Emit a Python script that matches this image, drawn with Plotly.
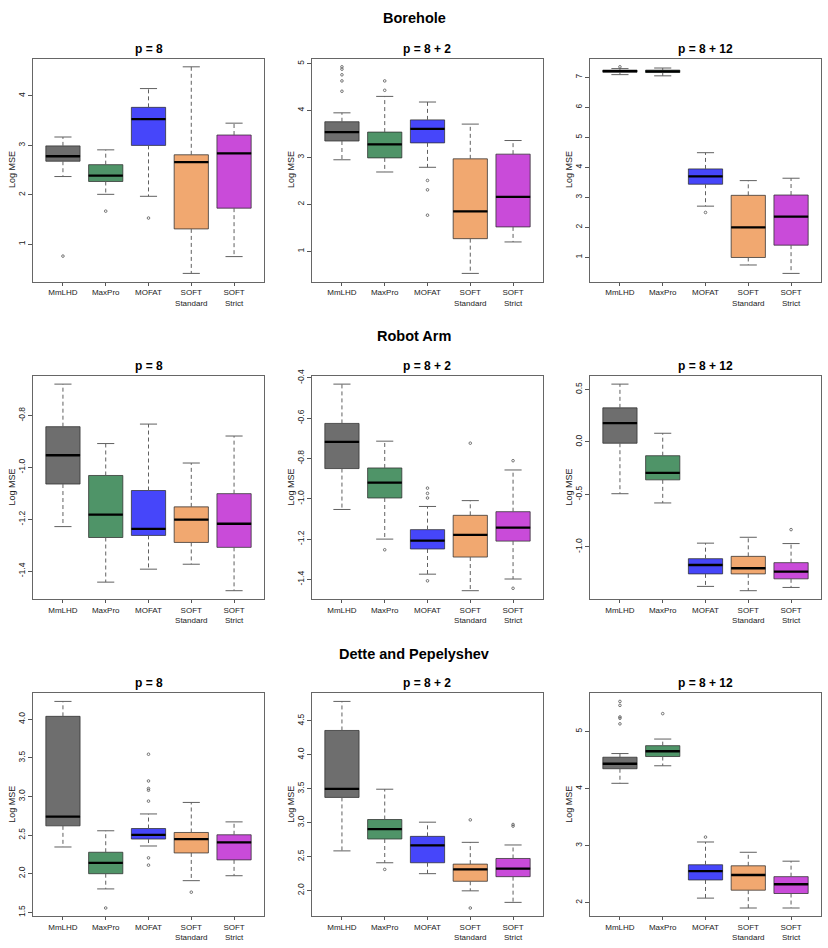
import plotly.graph_objects as go

# ---------------- data ----------------
methods = ["MmLHD", "MaxPro", "MOFAT", "SOFT<br>Standard", "SOFT<br>Strict"]
colors = ["#6e6e6e", "#4f9468", "#4646fa", "#f1a870", "#c94bd9"]
sections = ["Borehole", "Robot Arm", "Dette and Pepelyshev"]
subtitles = ["p = 8", "p = 8 + 2", "p = 8 + 12"]

# Borehole, p = 8
bh1_lower = [2.37, 2.01, 1.97, 0.41, 0.75]
bh1_q1 = [2.68, 2.27, 3.00, 1.31, 1.73]
bh1_med = [2.78, 2.39, 3.53, 2.66, 2.84]
bh1_q3 = [2.99, 2.61, 3.77, 2.81, 3.21]
bh1_upper = [3.17, 2.91, 4.15, 4.59, 3.45]
bh1_out = [[0.76], [1.67], [1.53], [], []]
bh1_ticks = [1, 2, 3, 4]
bh1_ticktext = ["1", "2", "3", "4"]

# Borehole, p = 8 + 2
bh2_lower = [2.95, 2.69, 2.79, 0.53, 1.20]
bh2_q1 = [3.35, 2.99, 3.31, 1.27, 1.52]
bh2_med = [3.54, 3.28, 3.61, 1.85, 2.16]
bh2_q3 = [3.76, 3.54, 3.80, 2.97, 3.07]
bh2_upper = [3.95, 4.30, 4.18, 3.71, 3.36]
bh2_out = [[4.93, 4.88, 4.76, 4.63, 4.41], [4.63, 4.43], [2.51, 2.31, 1.77], [], []]
bh2_ticks = [1, 2, 3, 4, 5]
bh2_ticktext = ["1", "2", "3", "4", "5"]

# Borehole, p = 8 + 12
bh3_lower = [7.09, 7.05, 2.71, 0.75, 0.47]
bh3_q1 = [7.17, 7.16, 3.44, 1.00, 1.41]
bh3_med = [7.21, 7.20, 3.70, 2.00, 2.36]
bh3_q3 = [7.24, 7.24, 3.95, 3.07, 3.08]
bh3_upper = [7.29, 7.31, 4.49, 3.56, 3.64]
bh3_out = [[7.35], [], [2.50], [], []]
bh3_ticks = [1, 2, 3, 4, 5, 6, 7]
bh3_ticktext = ["1", "2", "3", "4", "5", "6", "7"]

# Robot Arm, p = 8
ra1_lower = [-1.228, -1.442, -1.392, -1.373, -1.475]
ra1_q1 = [-1.064, -1.270, -1.262, -1.289, -1.308]
ra1_med = [-0.953, -1.182, -1.237, -1.201, -1.217]
ra1_q3 = [-0.843, -1.031, -1.089, -1.152, -1.101]
ra1_upper = [-0.679, -0.908, -0.833, -0.983, -0.879]
ra1_out = [[], [], [], [], []]
ra1_ticks = [-1.4, -1.2, -1.0, -0.8]
ra1_ticktext = ["-1.4", "-1.2", "-1.0", "-0.8"]

# Robot Arm, p = 8 + 2
ra2_lower = [-1.053, -1.200, -1.374, -1.456, -1.398]
ra2_q1 = [-0.850, -0.996, -1.249, -1.289, -1.210]
ra2_med = [-0.718, -0.920, -1.208, -1.179, -1.143]
ra2_q3 = [-0.626, -0.847, -1.153, -1.082, -1.064]
ra2_upper = [-0.431, -0.714, -1.038, -1.009, -0.857]
ra2_out = [[], [-1.253], [-0.947, -0.973, -0.996, -1.407], [-0.724], [-0.811, -1.444]]
ra2_ticks = [-1.4, -1.2, -1.0, -0.8, -0.6, -0.4]
ra2_ticktext = ["-1.4", "-1.2", "-1.0", "-0.8", "-0.6", "-0.4"]

# Robot Arm, p = 8 + 12
ra3_lower = [-0.494, -0.582, -1.377, -1.418, -1.387]
ra3_q1 = [-0.013, -0.362, -1.258, -1.258, -1.305]
ra3_med = [0.179, -0.296, -1.173, -1.204, -1.236]
ra3_q3 = [0.324, -0.132, -1.113, -1.091, -1.151]
ra3_upper = [0.550, 0.082, -0.965, -0.909, -0.969]
ra3_out = [[], [], [], [], [-0.836]]
ra3_ticks = [-1.0, -0.5, 0.0, 0.5]
ra3_ticktext = ["-1.0", "-0.5", "0.0", "0.5"]

# Dette and Pepelyshev, p = 8
dp1_lower = [2.346, 1.803, 2.359, 1.910, 1.974]
dp1_q1 = [2.620, 2.000, 2.449, 2.269, 2.179]
dp1_med = [2.739, 2.141, 2.504, 2.449, 2.406]
dp1_q3 = [4.038, 2.278, 2.585, 2.534, 2.504]
dp1_upper = [4.231, 2.556, 2.774, 2.923, 2.671]
dp1_out = [[], [1.556], [3.547, 3.201, 3.103, 3.081, 2.940, 2.205, 2.111], [1.761], []]
dp1_ticks = [1.5, 2.0, 2.5, 3.0, 3.5, 4.0]
dp1_ticktext = ["1.5", "2.0", "2.5", "3.0", "3.5", "4.0"]

# Dette and Pepelyshev, p = 8 + 2
dp2_lower = [2.584, 2.409, 2.248, 1.995, 1.825]
dp2_q1 = [3.372, 2.759, 2.409, 2.136, 2.204]
dp2_med = [3.498, 2.905, 2.666, 2.311, 2.321]
dp2_q3 = [4.359, 3.046, 2.798, 2.389, 2.472]
dp2_upper = [4.787, 3.493, 3.007, 2.710, 2.671]
dp2_out = [[], [2.311], [], [3.041, 1.742], [2.973, 2.949]]
dp2_ticks = [2.0, 2.5, 3.0, 3.5, 4.0, 4.5]
dp2_ticktext = ["2.0", "2.5", "3.0", "3.5", "4.0", "4.5"]

# Dette and Pepelyshev, p = 8 + 12
dp3_lower = [4.092, 4.399, 2.081, 1.908, 1.908]
dp3_q1 = [4.347, 4.561, 2.399, 2.220, 2.162]
dp3_med = [4.434, 4.653, 2.555, 2.486, 2.324]
dp3_q3 = [4.549, 4.751, 2.665, 2.647, 2.457]
dp3_upper = [4.613, 4.867, 3.064, 2.884, 2.728]
dp3_out = [[5.526, 5.457, 5.254, 5.231, 5.133], [5.312], [3.150], [], []]
dp3_ticks = [2, 3, 4, 5]
dp3_ticktext = ["2", "3", "4", "5"]

panels = [
    (bh1_lower, bh1_q1, bh1_med, bh1_q3, bh1_upper, bh1_out, bh1_ticks, bh1_ticktext),
    (bh2_lower, bh2_q1, bh2_med, bh2_q3, bh2_upper, bh2_out, bh2_ticks, bh2_ticktext),
    (bh3_lower, bh3_q1, bh3_med, bh3_q3, bh3_upper, bh3_out, bh3_ticks, bh3_ticktext),
    (ra1_lower, ra1_q1, ra1_med, ra1_q3, ra1_upper, ra1_out, ra1_ticks, ra1_ticktext),
    (ra2_lower, ra2_q1, ra2_med, ra2_q3, ra2_upper, ra2_out, ra2_ticks, ra2_ticktext),
    (ra3_lower, ra3_q1, ra3_med, ra3_q3, ra3_upper, ra3_out, ra3_ticks, ra3_ticktext),
    (dp1_lower, dp1_q1, dp1_med, dp1_q3, dp1_upper, dp1_out, dp1_ticks, dp1_ticktext),
    (dp2_lower, dp2_q1, dp2_med, dp2_q3, dp2_upper, dp2_out, dp2_ticks, dp2_ticktext),
    (dp3_lower, dp3_q1, dp3_med, dp3_q3, dp3_upper, dp3_out, dp3_ticks, dp3_ticktext),
]

# ---------------- layout geometry (pixels) ----------------
W, H = 828, 948
col_px = [(33, 264), (312, 543), (590, 821)]
row_px = [(52, 277), (372, 597), (692, 917)]
section_y = [11, 332, 653]
FONT = "Liberation Sans, Arial, Helvetica, sans-serif"
BOX_HALF = 0.4
CAP_HALF = 0.2

fig = go.Figure()
annotations = []
layout_axes = {}

for k, (lo, q1, med, q3, hi, outs, yt, ytt) in enumerate(panels):
    r, c = divmod(k, 3)
    xa = "x" if k == 0 else f"x{k+1}"
    ya = "y" if k == 0 else f"y{k+1}"
    xs = [i + 1 for i in range(len(methods))]

    # boxes
    for i in range(len(methods)):
        fig.add_trace(go.Box(
            x=[xs[i]], q1=[q1[i]], median=[med[i]], q3=[q3[i]],
            lowerfence=[q1[i]], upperfence=[q3[i]],
            width=2 * BOX_HALF, whiskerwidth=0,
            fillcolor=colors[i], line=dict(color="rgba(45,45,45,0.75)", width=1),
            boxpoints=False, hoverinfo="skip", xaxis=xa, yaxis=ya, showlegend=False,
        ))

    # dashed whiskers
    wx, wy = [], []
    for i in range(len(methods)):
        wx += [xs[i], xs[i], None, xs[i], xs[i], None]
        wy += [q3[i], hi[i], None, q1[i], lo[i], None]
    fig.add_trace(go.Scatter(x=wx, y=wy, mode="lines", xaxis=xa, yaxis=ya,
                             line=dict(color="#606060", width=1, dash="4px,3px"),
                             hoverinfo="skip", showlegend=False))
    # caps
    cx, cy = [], []
    for i in range(len(methods)):
        cx += [xs[i] - CAP_HALF, xs[i] + CAP_HALF, None, xs[i] - CAP_HALF, xs[i] + CAP_HALF, None]
        cy += [hi[i], hi[i], None, lo[i], lo[i], None]
    fig.add_trace(go.Scatter(x=cx, y=cy, mode="lines", xaxis=xa, yaxis=ya,
                             line=dict(color="#606060", width=1),
                             hoverinfo="skip", showlegend=False))
    # medians
    mx, my = [], []
    for i in range(len(methods)):
        mx += [xs[i] - BOX_HALF, xs[i] + BOX_HALF, None]
        my += [med[i], med[i], None]
    fig.add_trace(go.Scatter(x=mx, y=my, mode="lines", xaxis=xa, yaxis=ya,
                             line=dict(color="black", width=2.3),
                             hoverinfo="skip", showlegend=False))
    # outliers
    ox, oy = [], []
    for i in range(len(methods)):
        for v in outs[i]:
            ox.append(xs[i])
            oy.append(v)
    if ox:
        fig.add_trace(go.Scatter(x=ox, y=oy, mode="markers", xaxis=xa, yaxis=ya,
                                 marker=dict(symbol="circle-open", size=2.6, color="#555555",
                                             line=dict(width=0.8, color="#555555")),
                                 hoverinfo="skip", showlegend=False))

    # y range like R (4% expansion)
    allv = lo + hi + [v for o in outs for v in o]
    vmin, vmax = min(allv), max(allv)
    pad = 0.04 * (vmax - vmin)

    x0, x1 = col_px[c]
    y0, y1 = row_px[r]
    xdom = [x0 / W, x1 / W]
    ydom = [1 - y1 / H, 1 - y0 / H]

    layout_axes["xaxis" if k == 0 else f"xaxis{k+1}"] = dict(
        domain=xdom, anchor=ya, range=[0.3, 5.7],
        tickmode="array", tickvals=xs, ticktext=methods,
        ticks="outside", ticklen=3, tickcolor="#555555", tickwidth=1,
        showline=True, mirror=True, linecolor="#666666", linewidth=1,
        showgrid=False, zeroline=False,
        tickfont=dict(family=FONT, size=8, color="#222222"),
    )
    layout_axes["yaxis" if k == 0 else f"yaxis{k+1}"] = dict(
        domain=ydom, anchor=xa, range=[vmin - pad, vmax + pad],
        tickmode="array", tickvals=yt, ticktext=ytt, tickangle=-90,
        ticks="outside", ticklen=4, tickcolor="#555555", tickwidth=1,
        showline=True, mirror=True, linecolor="#666666", linewidth=1,
        showgrid=False, zeroline=False,
        tickfont=dict(family=FONT, size=8.5, color="#222222"),
    )

    # subplot title
    annotations.append(dict(
        x=(x0 + x1) / 2 / W, y=1 - (y0 - 10) / H, xref="paper", yref="paper",
        text="<b>" + subtitles[c] + "</b>", showarrow=False,
        xanchor="center", yanchor="middle",
        font=dict(family=FONT, size=12, color="black"),
    ))
    # y axis title
    annotations.append(dict(
        x=(x0 - 21) / W, y=1 - (y0 + y1) / 2 / H, xref="paper", yref="paper",
        text="Log MSE", textangle=-90, showarrow=False,
        xanchor="center", yanchor="middle",
        font=dict(family=FONT, size=9, color="#222222"),
    ))

for s, name in enumerate(sections):
    annotations.append(dict(
        x=0.5, y=1 - section_y[s] / H, xref="paper", yref="paper",
        text="<b>" + name + "</b>", showarrow=False,
        xanchor="center", yanchor="middle",
        font=dict(family=FONT, size=14.5, color="black"),
    ))

fig.update_layout(
    width=W, height=H, margin=dict(l=0, r=0, t=0, b=0),
    paper_bgcolor="white", plot_bgcolor="white",
    showlegend=False, annotations=annotations, **layout_axes,
)

fig.write_html("out.html")
